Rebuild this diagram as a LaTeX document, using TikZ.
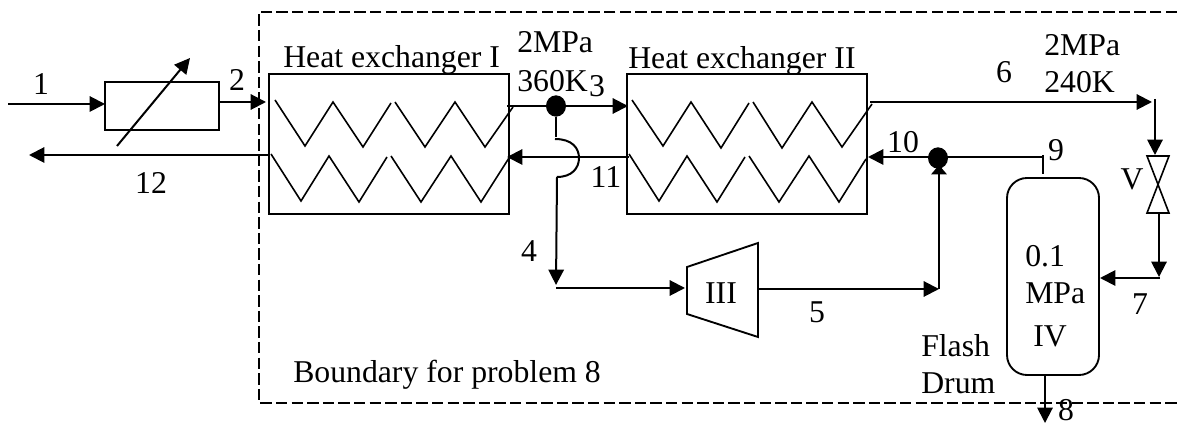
\documentclass[tikz,border=0pt]{standalone}
\usepackage{fontspec}
\setmainfont{Liberation Serif}
\usetikzlibrary{arrows.meta,shapes.geometric}
\tikzset{
  x=0.75pt,y=-0.75pt,
  lbl/.style={anchor=base,inner sep=0pt,font=\fontsize{23.8}{26}\selectfont},
  lblw/.style={lbl,anchor=base west},
  box/.style={draw,line width=1.4pt,inner sep=0pt,fill=none},
  coil/.style={line width=1.2pt,line join=miter},
  pipe/.style={line width=1.5pt},
  flow/.style={pipe,-{Triangle[length=11.5pt,width=11.5pt]}},
  smallflow/.style={pipe,-{Triangle[length=7pt,width=11.5pt]}},
  boundary/.style={line width=1.2pt,dash pattern=on 8.5pt off 3.2pt},
  dot/.style={ellipse,fill=black,inner sep=0pt,minimum width=15pt,minimum height=16pt},
}
\begin{document}
\begin{tikzpicture}
\useasboundingbox (0,0) rectangle (1177,423);
% boundary
\coordinate (bTR) at (1177,12);
\coordinate (bTL) at (259,12);
\coordinate (bBL) at (259,403);
\coordinate (bBR) at (1177,403);
\draw[boundary] (bTR) -- (bTL) -- (bBL) -- (bBR);
% equipment
\node[box,minimum width=85.5pt,minimum height=36pt] (heater) at (162,106) {};
\node[box,minimum width=180pt,minimum height=105pt] (hxa) at (389,144) {};
\node[box,minimum width=180pt,minimum height=105pt] (hxb) at (747,144) {};
\node[box,rounded corners=15pt,minimum width=69pt,minimum height=147.75pt] (drum) at (1053,276.5) {};
\node[dot] (dota) at (556,106) {};
\node[dot] (dotb) at (938,158) {};
% heater adjust arrow
\coordinate (adjA) at (117,146);
\coordinate (adjB) at (190,58);
\draw[flow] (adjA) -- (adjB);
% coils
\draw[coil] (275,100)--(305,146)--(333,102)--(363,147)--(391,103);
\draw[coil] (395,102)--(425,147)--(455,102)--(485,147)--(513,107);
\draw[coil] (271,154)--(301,201)--(329,156)--(359,202)--(387,157);
\draw[coil] (391,156)--(421,202)--(451,156)--(481,202)--(509,158);
\draw[coil] (632,100)--(663,146)--(691,102)--(721,148)--(749,103);
\draw[coil] (753,102)--(782,148)--(812,102)--(842,147)--(872,104);
\draw[coil] (629,154)--(659,201)--(687,156)--(717,202)--(745,157);
\draw[coil] (749,156)--(779,202)--(809,156)--(839,202)--(866,159);
% compressor
\draw[box] (687,267)--(758,243)--(758,337)--(687,314)--cycle;
\node[lbl] (comp) at (721,304) {III};
% valve
\draw[line width=1.2pt] (1147,156)--(1169,156)--(1147,213)--(1169,213)--cycle;
% ports
\coordinate (p1) at (8,104);
\coordinate (h1) at (105,104);
\coordinate (h2) at (220,102);
\coordinate (a2) at (266,102);
\coordinate (a12) at (269,155);
\coordinate (p12) at (29,155);
\coordinate (a3) at (507,106);
\coordinate (b3) at (628,106);
\coordinate (b11) at (629,157);
\coordinate (a11) at (507,157);
\coordinate (j1) at (556,137);
\coordinate (j2) at (555,139);
\coordinate (j3) at (557,177);
\coordinate (j4) at (556,285);
\coordinate (j5) at (556,288);
\coordinate (c4) at (685,288);
\coordinate (c5) at (759,289);
\coordinate (k5) at (939,289);
\coordinate (k6) at (939,165);
\coordinate (k7) at (939,174);
\coordinate (s1) at (1043,155);
\coordinate (s2) at (1043,174);
\coordinate (s3) at (1043,157);
\coordinate (b10) at (868,157);
\coordinate (b6) at (870,102);
\coordinate (v6) at (1152,102);
\coordinate (v1) at (1155,99);
\coordinate (v2) at (1155,155);
\coordinate (v3) at (1159,213);
\coordinate (v4) at (1159,277);
\coordinate (v5) at (1160,278);
\coordinate (d7) at (1100,278);
\coordinate (d8) at (1045,375);
\coordinate (p8) at (1045,423);
% connectors
\draw[flow] (p1) -- (h1);
\draw[flow] (h2) -- (a2);
\draw[flow] (a12) -- (p12);
\draw[pipe] (a3) -- (dota);
\draw[flow] (dota) -- (b3);
\draw[flow] (b11) -- (a11);
\draw[pipe] (dota) -- (j1);
\draw[pipe] (j2) .. controls (572,139) and (579,148) .. (579,158) .. controls (579,168) and (572,177) .. (j3);
\draw[flow] (j3) -- (j4);
\draw[flow] (j5) -- (c4);
\draw[flow] (c5) -- (k5);
\draw[pipe] (k5) -- (k6);
\draw[smallflow] (k7) -- (k6);
\draw[pipe] (s1) -- (s2);
\draw[flow] (s3) -- (b10);
\draw[flow] (b6) -- (v6);
\draw[flow] (v1) -- (v2);
\draw[flow] (v3) -- (v4);
\draw[flow] (v5) -- (d7);
\draw[flow] (d8) -- (p8);
% labels
\node[lbl] (t1) at (41,95) {1};
\node[lbl] (t2) at (237,91) {2};
\node[lbl] (t12) at (151,194) {12};
\node[lblw] (thxa) at (283,68) {Heat exchanger I};
\node[lblw] (thxb) at (628,69) {Heat exchanger II};
\node[lblw] (tp1) at (517,53) {2MPa};
\node[lblw] (tt1) at (517,92) {360K};
\node[lbl] (t3) at (597,97) {3};
\node[lblw] (tp2) at (1044,56) {2MPa};
\node[lblw] (tt2) at (1044,93) {240K};
\node[lbl] (t6) at (1004,83) {6};
\node[lbl] (t10) at (903,153) {10};
\node[lbl] (t9) at (1056,161) {9};
\node[lbl] (tv) at (1132,190) {V};
\node[lbl] (t11) at (606,188) {11};
\node[lbl] (t4) at (529,262) {4};
\node[lbl] (t5) at (817,323) {5};
\node[lbl] (t7) at (1140,315) {7};
\node[lbl] (t8) at (1066,421) {8};
\node[lblw] (td1) at (1025,267) {0.1};
\node[lblw] (td2) at (1025,304) {MPa};
\node[lblw] (td3) at (1033,347) {IV};
\node[lblw] (tf) at (921,357) {Flash};
\node[lblw] (td) at (921,394) {Drum};
\node[lblw] (tb) at (293,383) {Boundary for problem 8};
\end{tikzpicture}
\end{document}
